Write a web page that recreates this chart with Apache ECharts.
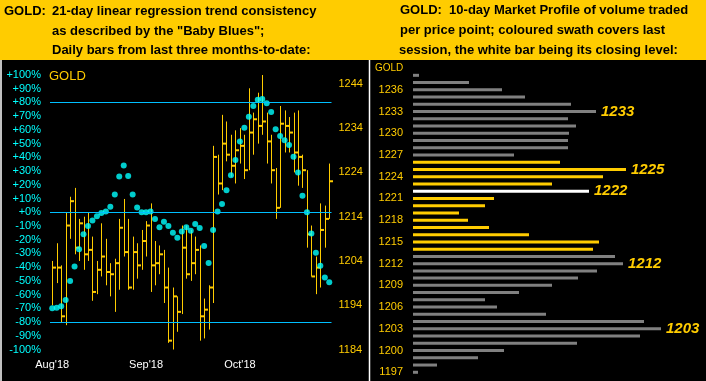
<!DOCTYPE html>
<html><head><meta charset="utf-8">
<script src="https://cdn.jsdelivr.net/npm/echarts@6/dist/echarts.min.js"></script>
<style>html,body{margin:0;padding:0;background:#000;}#c{width:706px;height:381px;}</style>
</head><body><div id="c"></div>
<script>
// ---- Left panel: daily bars (price) + "Baby Blues" (percent) ----
const monthTicks = [[0, "Aug'18"], [21, "Sep'18"], [42, "Oct'18"]];
const highs = [1204,1208,1203,1215,1218.5,1220.5,1213.5,1214,1215,1209.5,1204,1212.5,1209,1203.5,1204.5,1213.5,1218,1213.5,1209.5,1208,1211,1213,1217,1208.5,1207.5,1206.5,1202.5,1198,1196,1212,1212,1211,1209.5,1207.5,1195.5,1198.5,1230,1228,1237,1235.5,1232.5,1233.5,1234,1232.5,1243,1237.5,1242,1246,1237.5,1232.5,1225,1239,1238,1236.5,1237.5,1238,1228,1224.5,1212,1205,1217,1216.5,1226];
const lows = [1194,1199,1190,1189.5,1209,1205.5,1204,1202,1204,1195,1196.5,1200.5,1198.5,1196,1192.5,1197.5,1205,1197.5,1197.5,1200,1202,1205,1197,1198.5,1201,1194.5,1185.5,1184,1188,1192,1200,1199.5,1201,1186,1186.5,1188.5,1194.5,1219,1220,1226.5,1223,1221.5,1226,1222.5,1224.5,1228,1230.5,1232.5,1226,1221.5,1213.5,1216,1228.5,1228.5,1224,1221,1220.5,1207,1200.5,1196.5,1198,1207,1213.5];
const closes = [1202.5,1202.5,1191.5,1212,1217.5,1207,1212.5,1205.5,1206.5,1197,1202,1205,1201.5,1201,1203.5,1211.5,1206,1198,1206,1203,1208.5,1212,1203,1203.5,1205.5,1198,1186,1196,1192.5,1207,1201,1203.5,1206.5,1191.5,1193,1198,1227.5,1221.5,1230.5,1228,1225.5,1229,1230,1224.5,1233,1236,1234.5,1235.5,1231,1224.5,1216,1235,1234.5,1233,1228.5,1227.5,1224.5,1210,1200.5,1202.5,1211,1213.5,1222];
const babyBlues = [-70,-69.5,-68.5,-64,-50,-39.5,-27,-16,-10,-6,-3,-0.5,0.5,4,13,26,34,26.5,13,3.5,0,0,0.5,-5,-11,-7,-10,-15,-18.5,-14,-11,-13.5,-8.5,-11.5,-24.5,-37,-13,0.5,6,16,27,38,51.5,61.5,69.5,77.5,82,82.5,79.5,73,60.5,55.5,52.5,49,40.5,29,12,0,-15.5,-29.5,-39,-47.5,-51];
const refLines = [80, 0, -80];
const priceTicksMin = 1184, priceTicksStep = 10;

// ---- Right panel: 10-day market profile ----
const profilePrices = [1238,1237,1236,1235,1234,1233,1232,1231,1230,1229,1228,1227,1226,1225,1224,1223,1222,1221,1220,1219,1218,1217,1216,1215,1214,1213,1212,1211,1210,1209,1208,1207,1206,1205,1204,1203,1202,1201,1200,1199,1198,1197];
const profileVolume = [6,56,89,112,158,183,155,163,156,155,155,101,147,213,190,139,176,81,72,46,55,76,116,186,180,202,210,184,165,139,106,72,84,133,231,248,227,164,91,65,24,5];
const profileLabels = [1233, 1225, 1222, 1212, 1203];
const sessionLow = 1214, sessionHigh = 1226, sessionClose = 1222;

const YEL = '#FFCC00', CYAN = '#00FFFF', LINE = '#00BFFF', GRAY = '#808080';
const FONT = 'Liberation Sans, Arial, sans-serif';

const days = highs.map((_, i) => i);
const monthMap = {}; monthTicks.forEach(t => monthMap[t[0]] = t[1]);
const ohlc = days.map(i => [i, highs[i], lows[i], closes[i]]);

const profileData = profilePrices.map((p, i) => {
  let color = GRAY;
  if (p === sessionClose) color = '#FFFFFF';
  else if (p >= sessionLow && p <= sessionHigh) color = YEL;
  const item = { value: profileVolume[i], itemStyle: { color } };
  if (profileLabels.indexOf(p) >= 0) {
    item.label = { show: true, position: 'right', distance: 5, formatter: String(p),
      color: YEL, fontSize: 15, fontWeight: 'bold', fontStyle: 'italic', fontFamily: FONT };
  }
  return item;
});

const chart = echarts.init(document.getElementById('c'), null, { renderer: 'canvas' });
chart.setOption({
  backgroundColor: '#000',
  animation: false,
  grid: [
    { left: 50, top: 75, width: 281.5, height: 274.5 },
    { left: 413, top: 71.7, width: 290, height: 304.2 }
  ],
  xAxis: [
    { type: 'category', gridIndex: 0, data: days, boundaryGap: true,
      axisLine: { show: false, onZero: false }, axisTick: { show: false }, splitLine: { show: false },
      axisLabel: { interval: 0, margin: 10, color: '#FFFFFF', fontSize: 11, fontFamily: FONT,
        formatter: v => monthMap[v] || '' } },
    { type: 'value', gridIndex: 1, min: 0, max: 290, show: false }
  ],
  yAxis: [
    { type: 'value', gridIndex: 0, min: -100, max: 100, interval: 10, position: 'left',
      axisLine: { show: false }, axisTick: { show: false }, splitLine: { show: false },
      axisLabel: { margin: 9, color: CYAN, fontSize: 11, fontFamily: FONT,
        formatter: v => (v >= 0 ? '+' : '') + v + '%' } },
    { type: 'value', gridIndex: 0, min: priceTicksMin, max: 1246, interval: priceTicksStep, position: 'right',
      axisLine: { show: false }, axisTick: { show: false }, splitLine: { show: false },
      axisLabel: { margin: 7, color: YEL, fontSize: 11, fontFamily: FONT,
        formatter: v => ((v - priceTicksMin) % priceTicksStep === 0 ? String(v) : '') } },
    { type: 'category', gridIndex: 1, data: profilePrices, inverse: true,
      axisLine: { show: false }, axisTick: { show: false }, splitLine: { show: false },
      axisLabel: { margin: 10, color: YEL, fontSize: 11, fontFamily: FONT,
        interval: (idx, v) => Number(v) % 3 === 0 } }
  ],
  series: [
    { type: 'custom', xAxisIndex: 0, yAxisIndex: 1, data: ohlc, clip: false,
      renderItem: function (params, api) {
        const top = api.coord([api.value(0), api.value(1)]);
        const bot = api.coord([api.value(0), api.value(2)]);
        const cl = api.coord([api.value(0), api.value(3)]);
        const x = Math.round(top[0]) + 0.5;
        return { type: 'group', children: [
          { type: 'line', shape: { x1: x, y1: top[1], x2: x, y2: bot[1] }, style: { stroke: YEL, lineWidth: 1 } },
          { type: 'line', shape: { x1: x, y1: cl[1], x2: x + 3.5, y2: cl[1] }, style: { stroke: YEL, lineWidth: 2 } }
        ] };
      } },
    { type: 'scatter', xAxisIndex: 0, yAxisIndex: 0, data: days.map(i => [i, babyBlues[i]]),
      symbol: 'circle', symbolSize: 6, itemStyle: { color: CYAN },
      markLine: { silent: true, symbol: 'none', label: { show: false },
        lineStyle: { color: LINE, width: 1, type: 'solid' },
        data: refLines.map(v => ({ yAxis: v })) } },
    { type: 'bar', xAxisIndex: 1, yAxisIndex: 2, data: profileData, barWidth: 3 }
  ],
  graphic: [
    { type: 'rect', left: 0, top: 0, shape: { x: 0, y: 0, width: 706, height: 60 }, style: { fill: YEL }, z: -1 },
    { type: 'text', x: 4, y: 11, style: { text: 'GOLD:', fill: '#000', font: 'bold 13px ' + FONT, textVerticalAlign: 'middle' } },
    { type: 'text', x: 52, y: 11, style: { text: '21-day linear regression trend consistency', fill: '#000', font: 'bold 13px ' + FONT, textVerticalAlign: 'middle' } },
    { type: 'text', x: 52, y: 31, style: { text: 'as described by the "Baby Blues";', fill: '#000', font: 'bold 13px ' + FONT, textVerticalAlign: 'middle' } },
    { type: 'text', x: 52, y: 50.5, style: { text: 'Daily bars from last three months-to-date:', fill: '#000', font: 'bold 13px ' + FONT, textVerticalAlign: 'middle' } },
    { type: 'text', x: 400, y: 10.7, style: { text: 'GOLD:  10-day Market Profile of volume traded', fill: '#000', font: 'bold 13px ' + FONT, textVerticalAlign: 'middle' } },
    { type: 'text', x: 400, y: 30.7, style: { text: 'per price point; coloured swath covers last', fill: '#000', font: 'bold 13px ' + FONT, textVerticalAlign: 'middle' } },
    { type: 'text', x: 399, y: 50, style: { text: 'session, the white bar being its closing level:', fill: '#000', font: 'bold 13px ' + FONT, textVerticalAlign: 'middle' } },
    { type: 'text', x: 49, y: 76, style: { text: 'GOLD', fill: YEL, font: '13px ' + FONT, textVerticalAlign: 'middle' } },
    { type: 'text', x: 375, y: 68.3, style: { text: 'GOLD', fill: YEL, font: '10px ' + FONT, textVerticalAlign: 'middle' } },
    { type: 'line', shape: { x1: 369.5, y1: 60, x2: 369.5, y2: 381 }, style: { stroke: '#FFFFFF', lineWidth: 1.5 } },
    { type: 'line', shape: { x1: 1, y1: 60, x2: 1, y2: 381 }, style: { stroke: '#C0C0C0', lineWidth: 2 } }
  ]
});
</script></body></html>
